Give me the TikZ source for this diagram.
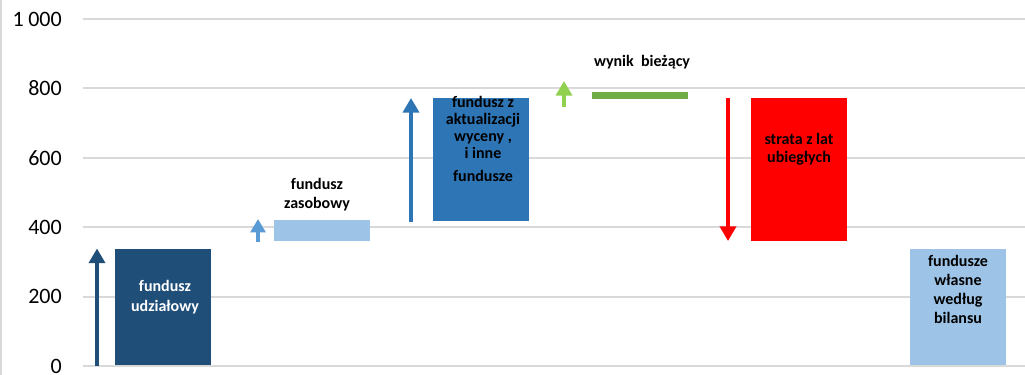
\documentclass[tikz,border=0pt]{standalone}
\usepackage{fontspec}
\setmainfont{Carlito}
\usetikzlibrary{arrows.meta}
\definecolor{gridgray}{HTML}{D9D9D9}
\definecolor{darkblue}{HTML}{1F4E79}
\definecolor{midblue}{HTML}{2E75B6}
\definecolor{lightblue}{HTML}{9DC3E6}
\definecolor{arrowblue}{HTML}{5B9BD5}
\definecolor{barGreen}{HTML}{70AD47}
\definecolor{lightgreen}{HTML}{92D050}
\definecolor{barRed}{HTML}{FF0000}
\tikzset{
  bar/.style={draw=none, inner sep=0pt, anchor=south west},
  gridline/.style={draw=gridgray, line width=1.5pt},
  ticklabel/.style={anchor=east, inner sep=0pt, font=\fontsize{16.5}{19}\selectfont},
  barlabel/.style={align=center, inner sep=0pt, font=\bfseries\fontsize{12}{14}\selectfont},
  flow/.style={line width=3pt, -{Triangle[width=12pt,length=11pt]}},
}
\begin{document}
\begin{tikzpicture}[x=0.75pt,y=0.75pt]
\useasboundingbox (0,0) rectangle (1025,375);
\fill[white] (0,0) rectangle (1025,375);
% left border
\draw[gridgray, line width=1pt] (1,0) -- (1,375);
% gridlines and tick labels
\foreach \v/\t [count=\i] in {0/0,200/200,400/400,600/600,800/800,1000/1\hspace{0.2em}000}{
  \pgfmathsetmacro{\yy}{9+\v*0.347}
  \coordinate (gl\i) at (83,\yy);
  \coordinate (gr\i) at (1025,\yy);
  \draw[gridline] (gl\i) -- (gr\i);
  \node[ticklabel] (tick\i) at (62,\yy) {\t};
}
% bars
\node[bar, fill=darkblue, minimum width=72pt, minimum height=87pt] (b1) at (115,9.5) {};
\node[bar, fill=lightblue, minimum width=72pt, minimum height=15.75pt] (b2) at (274,134) {};
\node[bar, fill=midblue, minimum width=72pt, minimum height=92.25pt] (b3) at (433,154) {};
\node[bar, fill=barGreen, minimum width=72pt, minimum height=5.25pt] (b4) at (592,276) {};
\node[bar, fill=barRed, minimum width=72pt, minimum height=107.25pt] (b5) at (751,134) {};
\node[bar, fill=lightblue, minimum width=72pt, minimum height=87pt] (b6) at (910,9.5) {};
% arrows
\coordinate (a1s) at (97,9); \coordinate (a1e) at (97,126.5);
\draw[flow, darkblue] (a1s) -- (a1e);
\coordinate (a2s) at (258,133); \coordinate (a2e) at (258,156);
\draw[flow, arrowblue, -{Triangle[width=11pt,length=10pt]}] (a2s) -- (a2e);
\coordinate (a3s) at (411,153); \coordinate (a3e) at (411,277);
\draw[flow, midblue] (a3s) -- (a3e);
\coordinate (a4s) at (564,268); \coordinate (a4e) at (564,294);
\draw[flow, lightgreen, line width=2.5pt] (a4s) -- (a4e);
\coordinate (a5s) at (728,277); \coordinate (a5e) at (728,134);
\draw[flow, barRed] (a5s) -- (a5e);
% labels
\node[barlabel, text=white, font=\bfseries\fontsize{12}{15}\selectfont] (l1) at (165,78) {fundusz\\udziałowy};
\node[barlabel] (l2) at (317,180.5) {fundusz\\zasobowy};
\node[barlabel, font=\bfseries\fontsize{12}{12.75}\selectfont] (l3) at (483,236) {fundusz z\\aktualizacji\\wyceny ,\\ i inne\\[5pt]fundusze};
\node[barlabel] (l4) at (642,313) {wynik\ \ bieżący};
\node[barlabel, font=\bfseries\fontsize{12}{13.5}\selectfont] (l5) at (799,226) {strata z lat\\ubiegłych};
\node[barlabel, font=\bfseries\fontsize{12}{14.25}\selectfont] (l6) at (958,85.5) {fundusze\\własne\\według\\bilansu};
\end{tikzpicture}
\end{document}
